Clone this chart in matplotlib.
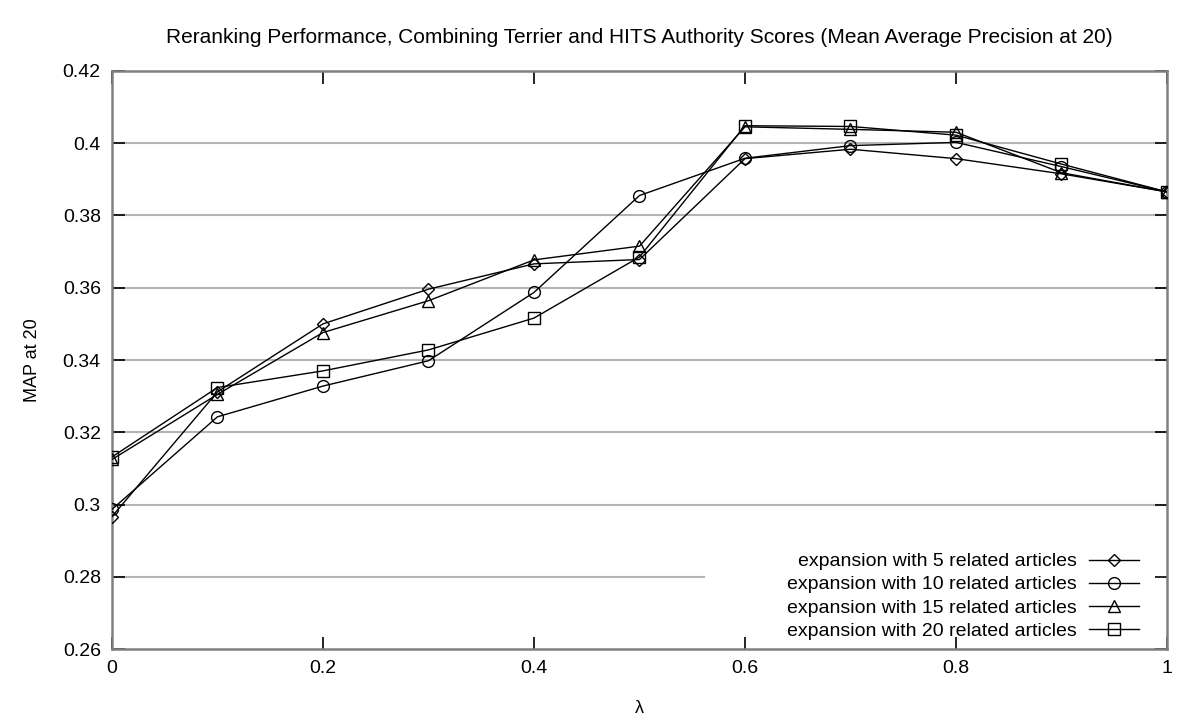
import matplotlib
matplotlib.use("Agg")
import matplotlib.pyplot as plt
from matplotlib.patches import Rectangle

plt.rcParams['font.family'] = ['Liberation Sans', 'DejaVu Sans']

# lambda values and MAP@20 for each expansion size
lam = [0.0, 0.1, 0.2, 0.3, 0.4, 0.5, 0.6, 0.7, 0.8, 0.9, 1.0]
map_5 = [0.2967, 0.3312, 0.3500, 0.3596, 0.3666, 0.3678, 0.3957, 0.3983, 0.3957, 0.3915, 0.3865]
map_10 = [0.2987, 0.3243, 0.3328, 0.3398, 0.3587, 0.3855, 0.3958, 0.3993, 0.4002, 0.3935, 0.3865]
map_15 = [0.3125, 0.3305, 0.3476, 0.3564, 0.3677, 0.3715, 0.4045, 0.4038, 0.4030, 0.3918, 0.3865]
map_20 = [0.3132, 0.3324, 0.3370, 0.3428, 0.3516, 0.3685, 0.4048, 0.4046, 0.4022, 0.3942, 0.3865]

labels = ["expansion with 5 related articles",
          "expansion with 10 related articles",
          "expansion with 15 related articles",
          "expansion with 20 related articles"]

x_ticks = [0, 0.2, 0.4, 0.6, 0.8, 1]
x_tick_labels = ["0", "0.2", "0.4", "0.6", "0.8", "1"]
y_ticks = [0.26, 0.28, 0.30, 0.32, 0.34, 0.36, 0.38, 0.40, 0.42]
y_tick_labels = ["0.26", "0.28", "0.3", "0.32", "0.34", "0.36", "0.38", "0.4", "0.42"]

fig = plt.figure(figsize=(12, 7.2), dpi=100)
ax = fig.add_axes([0.0933, 0.0982, 0.8792, 0.8035])

series = [map_5, map_10, map_15, map_20]
markers = ['D', 'o', '^', 's']
msizes = [6, 8.5, 8.5, 8.5]
for ys, mk, ms, lb in zip(series, markers, msizes, labels):
    ax.plot(lam, ys, color='black', lw=1, marker=mk, markersize=ms,
            markerfacecolor='none', markeredgecolor='black', markeredgewidth=1,
            label=lb, zorder=3)

ax.set_xlim(0, 1)
ax.set_ylim(0.26, 0.42)
ax.set_xticks(x_ticks)
ax.set_xticklabels(x_tick_labels)
ax.set_yticks(y_ticks)
ax.set_yticklabels(y_tick_labels)

# horizontal grid drawn by hand so the key box can hide it but not the ticks
for yv in y_ticks[1:-1]:
    ax.axhline(yv, color='#b4b4b4', lw=1.5, zorder=0.5)

ax.tick_params(direction='in', length=9, width=1.2, color='black',
               top=True, right=True, labelsize=14, pad=8)
for sp in ax.spines.values():
    sp.set_color('#808080')
    sp.set_linewidth(1.8)

# opaque key area (like gnuplot)
ax.add_patch(Rectangle((0.562, 0.0), 0.438, 0.175, transform=ax.transAxes,
                       facecolor='white', edgecolor='none', zorder=1))

ax.set_title("Reranking Performance, Combining Terrier and HITS Authority Scores (Mean Average Precision at 20)",
             fontsize=15, pad=20)
ax.set_xlabel("λ", fontsize=13, labelpad=16)
ax.set_ylabel("MAP at 20", fontsize=13, labelpad=16)

leg = ax.legend(loc='lower right', markerfirst=False, frameon=False, fontsize=14,
                handlelength=2.6, labelspacing=0.28, borderaxespad=0.1,
                handletextpad=0.6, bbox_to_anchor=(0.983, 0.0))

fig.savefig("out.png", dpi=100)
